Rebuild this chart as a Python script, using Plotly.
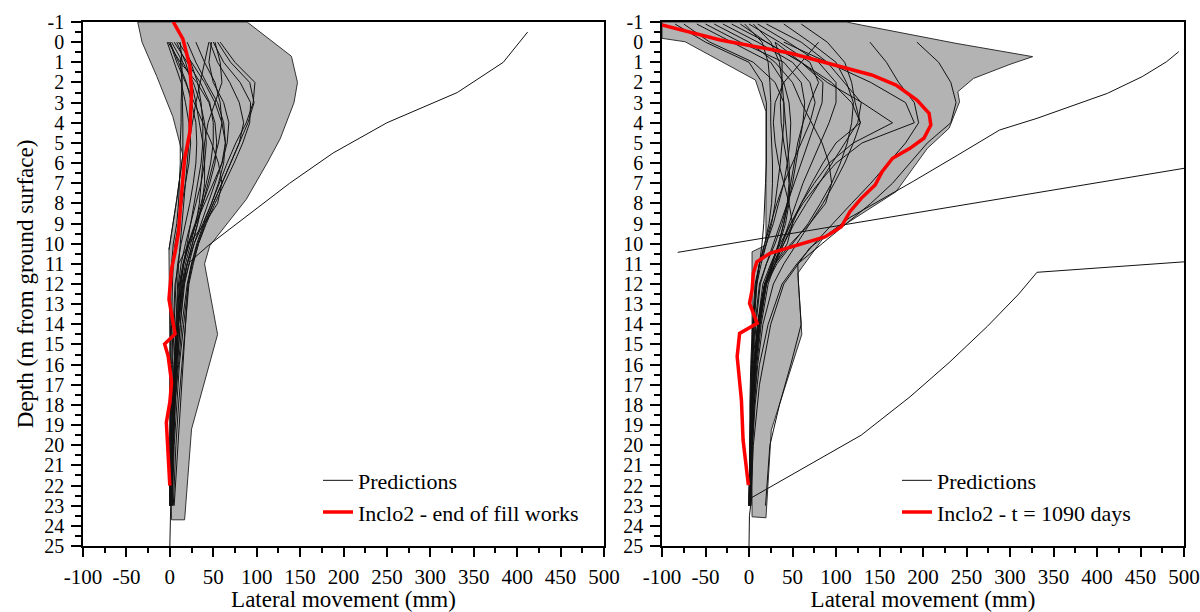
import plotly.graph_objects as go

# ---------------- LEFT PANEL : end of fill works ----------------
L_DEPTHS = [0, 1, 2, 3, 4, 5, 6, 7, 8, 9, 10, 11, 12, 14, 16, 18, 20, 23]
L_PRED_01 = [-3, 5, 13, 18, 22, 24, 22, 18, 14, 10, 6, 4, 3, 2, 1, 1, 0, 0]
L_PRED_02 = [0, 10, 19, 25, 30, 31, 30, 27, 23, 18, 13, 9, 7, 5, 3, 2, 1, 0]
L_PRED_03 = [2, 15, 27, 35, 40, 42, 40, 36, 30, 24, 18, 13, 10, 7, 5, 3, 2, 1]
L_PRED_04 = [-2, 12, 31, 45, 52, 54, 52, 46, 38, 30, 22, 16, 12, 9, 6, 4, 3, 1]
L_PRED_05 = [5, 20, 35, 46, 50, 50, 47, 42, 36, 29, 21, 15, 11, 8, 6, 4, 2, 1]
L_PRED_06 = [48, 45, 50, 62, 68, 66, 60, 52, 44, 36, 28, 22, 17, 12, 8, 5, 3, 2]
L_PRED_07 = [46, 55, 69, 80, 85, 80, 70, 60, 50, 40, 32, 25, 20, 14, 10, 6, 4, 2]
L_PRED_08 = [50, 62, 81, 93, 92, 84, 74, 63, 52, 42, 33, 26, 21, 16, 11, 8, 5, 3]
L_PRED_09 = [55, 70, 92, 97, 90, 80, 70, 60, 50, 41, 33, 27, 22, 18, 14, 10, 7, 4]
L_PRED_10 = [58, 75, 98, 96, 88, 76, 66, 57, 48, 39, 31, 25, 21, 18, 15, 12, 9, 5]
L_PRED_11 = [8, 18, 25, 30, 34, 38, 40, 40, 37, 32, 26, 20, 15, 10, 7, 5, 3, 2]
L_PRED_12 = [10, 25, 40, 52, 60, 64, 62, 56, 48, 38, 28, 20, 14, 9, 6, 4, 3, 2]
L_PRED_13 = [12, 14, 14, 13, 13, 12, 12, 11, 10, 8, 4, 2, 1, 1, 0, 0, 0, 0]
L_PRED_14 = [20, 30, 42, 55, 62, 64, 60, 50, 40, 30, 22, 16, 12, 8, 5, 3, 2, 1]
L_PRED_15 = [30, 40, 52, 58, 60, 56, 50, 44, 38, 32, 26, 20, 16, 12, 9, 6, 4, 2]
L_PRED_16 = [15, 24, 32, 36, 38, 38, 36, 32, 28, 24, 20, 16, 13, 10, 8, 6, 4, 2]
L_PRED_17 = [0, 8, 18, 28, 38, 48, 56, 60, 55, 40, 22, 10, 6, 4, 2, 1, 0, 0]
L_PRED_18 = [45, 40, 35, 30, 26, 22, 20, 18, 16, 14, 12, 10, 9, 7, 5, 3, 2, 1]
L_PRED_19 = [52, 58, 60, 52, 44, 40, 38, 36, 34, 30, 24, 18, 14, 10, 7, 4, 2, 1]
L_PRED_LIST = [L_PRED_01, L_PRED_02, L_PRED_03, L_PRED_04, L_PRED_05, L_PRED_06,
               L_PRED_07, L_PRED_08, L_PRED_09, L_PRED_10, L_PRED_11, L_PRED_12,
               L_PRED_13, L_PRED_14, L_PRED_15, L_PRED_16, L_PRED_17, L_PRED_18,
               L_PRED_19]

L_NOTCH_DEPTH = [0.8, 2, 4, 5.6, 7.8, 10.3]
L_NOTCH_MM = [12, 14, 15, 15, 8, -1]

L_OUT_DEPTH = [-0.5, 1, 2.5, 4, 5.5, 7, 10.1, 10.9, 12, 14, 17, 20, 23, 25]
L_OUT_MM = [412, 384, 331, 250, 188, 138, 44, 23, 16, 10, 6, 3, 1, 0]

L_ENV_MM = [-37, 89, 140, 147, 143, 127, 112, 88, 46, 40, 55, 25, 17, 2, 1, 0, 0,
            -1, 8, 15, 3.5, -15, -32, -37]
L_ENV_DEPTH = [-1, -1, 0.7, 2, 3, 4.8, 6, 7.8, 10.1, 11, 14.5, 19.2, 23.7, 23.7, 20, 15, 12,
               10.3, 7.8, 5.6, 3.7, 1.7, 0, -1]

L_INCLO_DEPTH = [-1, -0.16, 1.17, 2.49, 4.47, 5.8, 7.78, 9.44, 10.43, 10.93, 11.26, 12.75,
                 14.07, 14.48, 14.98, 15.56, 16.88, 17.87, 18.87, 20.19, 22.0]
L_INCLO_MM = [4, 15, 23, 25, 23, 17, 13, 10, 6, 3, 2, -1, 4, 6, -6, -2, 2, 0, -4, -2, 0]

# ---------------- RIGHT PANEL : t = 1090 days ----------------
R_DEPTHS = [-0.9, 0, 1, 2, 3, 4, 5, 6, 7, 8, 9, 10, 11, 12, 14, 16, 18, 20, 23]
R_PRED_01 = [-60, -20, 25, 40, 46, 48, 47, 44, 40, 34, 28, 20, 12, 7, 4, 2, 1, 1, 0]
R_PRED_02 = [-75, -45, 5, 30, 40, 40, 38, 36, 33, 30, 26, 20, 14, 9, 5, 3, 2, 1, 0]
R_PRED_03 = [-30, 10, 50, 70, 76, 70, 60, 50, 40, 32, 25, 18, 12, 8, 5, 3, 2, 1, 0]
R_PRED_04 = [-10, 20, 60, 85, 84, 76, 68, 60, 52, 44, 36, 28, 20, 13, 8, 5, 3, 2, 1]
R_PRED_05 = [-5, 15, 22, 24, 25, 25, 26, 27, 27, 26, 23, 18, 12, 8, 5, 3, 2, 1, 0]
R_PRED_06 = [5, 25, 35, 38, 40, 42, 44, 46, 47, 46, 42, 35, 25, 16, 10, 6, 4, 2, 1]
R_PRED_07 = [40, 70, 100, 112, 120, 118, 113, 105, 95, 82, 68, 50, 32, 20, 12, 7, 4, 2, 1]
R_PRED_08 = [60, 90, 110, 118, 122, 128, 120, 110, 98, 85, 70, 55, 40, 28, 16, 10, 6, 4, 2]
R_PRED_09 = [20, 60, 90, 110, 129, 125, 110, 95, 80, 66, 52, 40, 28, 18, 10, 6, 4, 2, 1]
R_PRED_10 = [None, 139, 158, 172, 190, 195, 180, 160, 140, 118, 96, 75, 55, 38, 22, 12, 7, 4, 2]
R_PRED_11 = [None, 193, 218, 232, 238, 232, 205, 185, 165, 140, 112, 84, 56, 57, 60, 48, 35, 24, 19]
R_PRED_12 = [None, 40, 90, 140, 180, 190, 130, 100, 80, 62, 48, 36, 26, 18, 10, 6, 4, 2, 1]
R_PRED_13 = [None, 30, 60, 90, 130, 165, 120, 92, 75, 60, 48, 38, 28, 19, 11, 7, 4, 2, 1]
R_PRED_14 = [-20, 20, 60, 95, 118, 128, 100, 85, 72, 60, 50, 40, 30, 20, 12, 7, 4, 2, 1]
R_PRED_15 = [-85, -50, 0, 15, 20, 20, 20, 20, 19, 18, 17, 15, 12, 9, 6, 4, 3, 2, 1]
R_PRED_16 = [0, 35, 70, 80, 70, 62, 56, 52, 48, 44, 40, 34, 26, 18, 12, 8, 5, 3, 1]
R_PRED_17 = [10, 45, 80, 100, 100, 92, 82, 72, 62, 54, 46, 38, 30, 22, 14, 9, 6, 3, 1]
R_PRED_18 = [-50, -10, 40, 60, 64, 62, 58, 54, 50, 45, 40, 34, 27, 20, 13, 8, 5, 3, 1]
R_PRED_19 = [None, 30, 38, 38, 36, 37, 40, 44, 46, 44, 38, 30, 20, 12, 7, 4, 2, 1, 0]
R_PRED_20 = [None, 80, 60, 40, 30, 28, 30, 34, 40, 46, 50, 44, 30, 18, 10, 6, 3, 2, 0]
R_PRED_21 = [-40, 0, 30, 50, 60, 72, 84, 92, 95, 88, 70, 48, 30, 18, 10, 6, 4, 2, 1]
R_PRED_LIST = [R_PRED_01, R_PRED_02, R_PRED_03, R_PRED_04, R_PRED_05, R_PRED_06,
               R_PRED_07, R_PRED_08, R_PRED_09, R_PRED_10, R_PRED_11, R_PRED_12,
               R_PRED_13, R_PRED_14, R_PRED_15, R_PRED_16, R_PRED_17, R_PRED_18,
               R_PRED_19, R_PRED_20, R_PRED_21]

R_OUT1_DEPTH = [0.47, 0.97, 1.71, 2.54, 3.78, 4.36, 5.6, 6.9, 8.7, 10.2, 12, 14, 17, 20, 23]
R_OUT1_MM = [494, 480, 452, 412, 331, 288, 240, 189, 116, 70, 40, 25, 12, 5, 2]
R_OUT2_DEPTH = [10.43, 9.05, 6.26]
R_OUT2_MM = [-82, 112, 500]
R_OUT3_DEPTH = [10.9, 11.42, 12.5, 14.1, 15.9, 17.6, 19.5, 20.8, 22.47, 22.6, 23.5, 25]
R_OUT3_MM = [500, 331, 310, 274, 230, 185, 129, 76, 7, 3, 0.5, 0]

R_ENV_MM = [-100, 112, 129, 238, 326, 300, 258, 240, 242, 230, 205, 169, 112, 84, 56,
            60.7, 25.6, 19.5, 3.5, 3.5, 19.5, 19.5, 7.4, -73.4, -100, -100]
R_ENV_DEPTH = [-1, -1, -0.85, 0.06, 0.72, 1.1, 1.8, 2.46, 2.96, 4.27, 5.27, 7.42, 9.0, 9.8,
               11.47, 14.5, 19.25, 23.6, 23.55, 10.4, 10.07, 3.45, 1.88, -0.02, -0.19, -1]

R_INCLO_DEPTH = [-0.85, -0.11, 0.55, 1.63, 2.13, 2.87, 3.53, 4.11, 4.77, 5.27, 5.76, 6.43,
                 7.09, 7.75, 8.41, 9.16, 9.65, 10.07, 10.48, 10.9, 11.47, 12.3, 12.96,
                 13.95, 14.45, 15.6, 17.76, 19.74, 21.4, 21.98]
R_INCLO_MM = [-100, -33, 48, 141, 169, 193, 207, 209, 201, 185, 165, 153, 145, 129, 116,
              106, 88, 56, 24, 9, 5, 3.5, 0.6, 9.4, -10.8, -13.6, -8.7, -6.8, -2.6, -0.7]

X_TICKS = [-100, -50, 0, 50, 100, 150, 200, 250, 300, 350, 400, 450, 500]
X_TICK_TEXT = ["-100", "-50", "0", "50", "100", "150", "200", "250", "300", "350",
               "400", "450", "500"]
Y_TICKS = [-1, 0, 1, 2, 3, 4, 5, 6, 7, 8, 9, 10, 11, 12, 13, 14, 15, 16, 17, 18, 19,
           20, 21, 22, 23, 24, 25]
Y_TICK_TEXT = ["-1", "0", "1", "2", "3", "4", "5", "6", "7", "8", "9", "10", "11", "12",
               "13", "14", "15", "16", "17", "18", "19", "20", "21", "22", "23", "24", "25"]

FONT = "Liberation Serif, Times New Roman, serif"
PRED_COLOR = "#111111"
ENV_FILL = "#b3b3b3"
ENV_LINE = "#333333"
RED = "#ff0000"

fig = go.Figure()


def add_panel(xa, ya, leg, depths, pred_list, extra, env_mm, env_d, inc_mm, inc_d, inc_name):
    fig.add_trace(go.Scatter(x=env_mm, y=env_d, mode="lines", fill="toself",
                             fillcolor=ENV_FILL, line=dict(color=ENV_LINE, width=1),
                             showlegend=False, hoverinfo="skip", xaxis=xa, yaxis=ya))
    first = True
    for vals in pred_list:
        fig.add_trace(go.Scatter(x=vals, y=depths, mode="lines",
                                 line=dict(color=PRED_COLOR, width=1),
                                 name="Predictions", showlegend=first, legend=leg,
                                 connectgaps=False, xaxis=xa, yaxis=ya))
        first = False
    for mm, d in extra:
        fig.add_trace(go.Scatter(x=mm, y=d, mode="lines",
                                 line=dict(color=PRED_COLOR, width=1),
                                 name="Predictions", showlegend=False, legend=leg,
                                 xaxis=xa, yaxis=ya))
    fig.add_trace(go.Scatter(x=inc_mm, y=inc_d, mode="lines",
                             line=dict(color=RED, width=3.5),
                             name=inc_name, legend=leg, xaxis=xa, yaxis=ya))


add_panel("x", "y", "legend", L_DEPTHS, L_PRED_LIST,
          [(L_NOTCH_MM, L_NOTCH_DEPTH), (L_OUT_MM, L_OUT_DEPTH)],
          L_ENV_MM, L_ENV_DEPTH, L_INCLO_MM, L_INCLO_DEPTH,
          "Inclo2 - end of fill works")
add_panel("x2", "y2", "legend2", R_DEPTHS, R_PRED_LIST,
          [(R_OUT1_MM, R_OUT1_DEPTH), (R_OUT2_MM, R_OUT2_DEPTH), (R_OUT3_MM, R_OUT3_DEPTH)],
          R_ENV_MM, R_ENV_DEPTH, R_INCLO_MM, R_INCLO_DEPTH,
          "Inclo2 - t = 1090 days")

ML, MR, MT, MB = 83, 16, 22, 66
PW = 1200 - ML - MR


def xax(domain, anchor):
    return dict(domain=domain, anchor=anchor, range=[-100, 500], tickmode="array",
                tickvals=X_TICKS, ticktext=X_TICK_TEXT,
                ticks="outside", ticklen=9, tickwidth=1.5, tickcolor="black",
                minor=dict(dtick=25, tick0=0, ticks="outside", ticklen=5, tickwidth=1.5,
                           tickcolor="black"),
                showline=True, linewidth=1.5, linecolor="black", mirror=True,
                showgrid=False, zeroline=False,
                tickfont=dict(family=FONT, size=21, color="black"),
                ticklabelstandoff=2,
                title=dict(text="Lateral movement (mm)",
                           font=dict(family=FONT, size=23, color="black"), standoff=3))


def yax(anchor, title):
    d = dict(range=[25, -1], tickmode="array", tickvals=Y_TICKS, ticktext=Y_TICK_TEXT,
             anchor=anchor,
             ticks="outside", ticklen=10, tickwidth=1.5, tickcolor="black",
             minor=dict(dtick=0.5, tick0=-1, ticks="outside", ticklen=6, tickwidth=1.5,
                        tickcolor="black"),
             showline=True, linewidth=1.5, linecolor="black", mirror=True,
             showgrid=False, zeroline=False,
             tickfont=dict(family=FONT, size=20, color="black"),
             ticklabelstandoff=3)
    if title:
        d["title"] = dict(text=title, font=dict(family=FONT, size=23, color="black"),
                          standoff=4)
    return d


fig.update_layout(
    width=1200, height=612,
    margin=dict(l=ML, r=MR, t=MT, b=MB, autoexpand=False),
    paper_bgcolor="white", plot_bgcolor="white",
    font=dict(family=FONT, color="black", size=21),
    xaxis=xax([0, (604 - ML) / PW], "y"),
    xaxis2=xax([(662 - ML) / PW, 1.0], "y2"),
    yaxis=yax("x", "Depth (m from ground surface)"),
    yaxis2=yax("x2", None),
    legend=dict(x=(318 - ML) / PW, y=0.165, xanchor="left", yanchor="top",
                bgcolor="rgba(0,0,0,0)", borderwidth=0, itemwidth=30,
                font=dict(family=FONT, size=22, color="black"), tracegroupgap=0),
    legend2=dict(x=(897 - ML) / PW, y=0.165, xanchor="left", yanchor="top",
                 bgcolor="rgba(0,0,0,0)", borderwidth=0, itemwidth=30,
                 font=dict(family=FONT, size=22, color="black"), tracegroupgap=0),
    showlegend=True,
)

fig.write_html("out.html")
